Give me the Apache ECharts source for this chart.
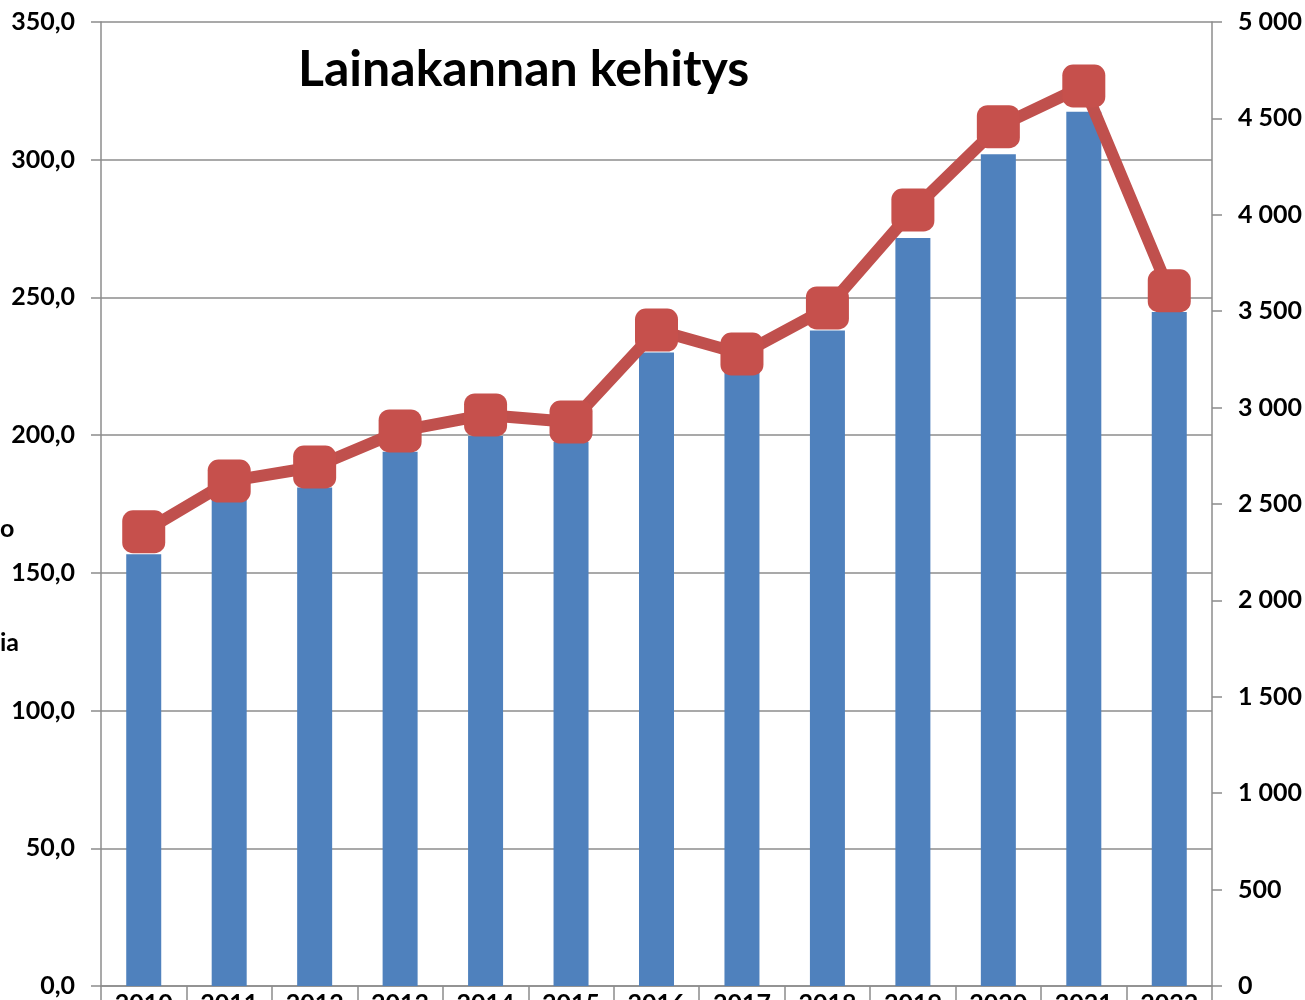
<!DOCTYPE html>
<html>
<head>
<meta charset="utf-8">
<script src="https://cdn.jsdelivr.net/npm/echarts@6/dist/echarts.min.js"></script>
<style>
  html, body { margin: 0; padding: 0; background: #fff; }
  #main { width: 1305px; height: 1000px; }
</style>
</head>
<body>
<div id="main"></div>
<script>
// years on the category axis
var years = ['2010', '2011', '2012', '2013', '2014', '2015', '2016', '2017', '2018', '2019', '2020', '2021', '2022'];
// bars, left axis (0,0 - 350,0)
var lainakanta = [156.8, 176.5, 181.0, 194.0, 199.7, 197.5, 230.0, 223.0, 238.0, 271.6, 302.0, 317.4, 244.7];
// line, right axis (0 - 5 000)
var perAsukas = [2356, 2619, 2692, 2879, 2962, 2925, 3402, 3278, 3517, 4025, 4457, 4668, 3606];

var chartDom = document.getElementById('main');
var myChart = echarts.init(chartDom, null, { renderer: 'canvas' });

var FONT = 'Lato, "Open Sans", sans-serif';
var GRID_COLOR = '#8c8c8c';

function leftLabel(v) {
    return v.toFixed(1).replace('.', ',');
}

function rightLabel(v) {
    return String(v).replace(/\B(?=(\d{3})+(?!\d))/g, ' ');
}

var option = {
    animation: false,
    backgroundColor: '#ffffff',
    title: {
        text: 'Lainakannan kehitys',
        left: 293,
        top: 40,
        textStyle: {
            fontFamily: FONT,
            fontSize: 50,
            fontWeight: 'bold',
            color: '#000'
        }
    },
    graphic: [
        { type: 'text', left: 0, top: 516, style: { text: 'o', font: 'bold 25px ' + FONT, fill: '#000' } },
        { type: 'text', left: 0, top: 630, style: { text: 'ia', font: 'bold 25px ' + FONT, fill: '#000' } }
    ],
    grid: {
        left: 101,
        right: 93,
        top: 22,
        bottom: 14,
        containLabel: false,
        outerBoundsMode: 'none'
    },
    xAxis: {
        type: 'category',
        data: years,
        boundaryGap: true,
        axisLine: { lineStyle: { color: GRID_COLOR, width: 1.5 } },
        axisTick: { show: true, alignWithLabel: false, length: 14, lineStyle: { color: GRID_COLOR, width: 1.5 } },
        axisLabel: {
            margin: 5,
            fontFamily: FONT,
            fontSize: 25,
            fontWeight: 'bold',
            color: '#000',
            verticalAlign: 'top'
        }
    },
    yAxis: [
        {
            type: 'value',
            min: 0,
            max: 350,
            interval: 50,
            position: 'left',
            axisLine: { show: true, lineStyle: { color: GRID_COLOR, width: 1.5 } },
            axisTick: { show: true, length: 10, lineStyle: { color: GRID_COLOR, width: 1.5 } },
            splitLine: { show: true, lineStyle: { color: GRID_COLOR, width: 1.5 } },
            axisLabel: {
                margin: 26,
                formatter: leftLabel,
                fontFamily: FONT,
                fontSize: 25,
                fontWeight: 'bold',
                color: '#000'
            }
        },
        {
            type: 'value',
            min: 0,
            max: 5000,
            interval: 500,
            position: 'right',
            axisLine: { show: true, lineStyle: { color: GRID_COLOR, width: 1.5 } },
            axisTick: { show: true, length: 10, lineStyle: { color: GRID_COLOR, width: 1.5 } },
            splitLine: { show: false },
            axisLabel: {
                margin: 26,
                formatter: rightLabel,
                fontFamily: FONT,
                fontSize: 25,
                fontWeight: 'bold',
                color: '#000'
            }
        }
    ],
    series: [
        {
            name: 'Lainakanta',
            type: 'bar',
            yAxisIndex: 0,
            data: lainakanta,
            barWidth: 35,
            itemStyle: { color: '#4f81bd' },
            z: 2
        },
        {
            name: 'Laina per asukas',
            type: 'line',
            yAxisIndex: 1,
            data: perAsukas,
            symbol: 'roundRect',
            symbolSize: 43,
            lineStyle: { color: '#c0504d', width: 12 },
            itemStyle: { color: '#c6504c' },
            z: 3
        }
    ]
};

myChart.setOption(option);

window.addEventListener('resize', function () {
    myChart.resize();
});
</script>
</body>
</html>
